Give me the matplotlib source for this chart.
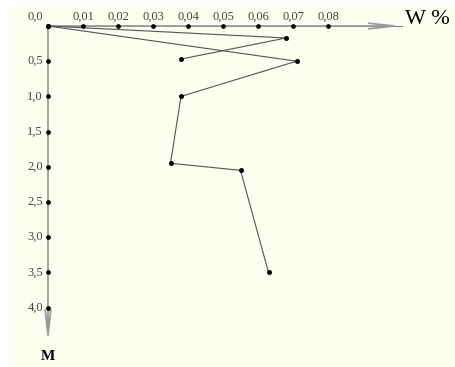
import matplotlib.pyplot as plt

# upper profile (short branch)
w_upper = [0.038, 0.068, 0.0]
d_upper = [0.47, 0.17, 0.0]

# main profile
w_main = [0.0, 0.071, 0.038, 0.035, 0.055, 0.063]
d_main = [0.0, 0.5, 1.0, 1.95, 2.05, 3.5]

x_ticks = [0.01, 0.02, 0.03, 0.04, 0.05, 0.06, 0.07, 0.08]
x_labels = ["0,01", "0,02", "0,03", "0,04", "0,05", "0,06", "0,07", "0,08"]
y_ticks = [0.5, 1.0, 1.5, 2.0, 2.5, 3.0, 3.5, 4.0]
y_labels = ["0,5", "1,0", "1,5", "2,0", "2,5", "3,0", "3,5", "4,0"]

bg = "#fdfdf0"
W, H = 456, 367
fig = plt.figure(figsize=(W / 100, H / 100), dpi=100, facecolor="white")

# cream panel, leaving a thin white margin top/left
panel = fig.add_axes([8 / W, 0, 1 - 8 / W, 1 - 6 / H], zorder=0)
panel.set_facecolor(bg)
panel.set_xticks([])
panel.set_yticks([])
for s in panel.spines.values():
    s.set_visible(False)

ax = fig.add_axes([0, 0, 1, 1], zorder=1)
ax.patch.set_alpha(0)
ax.set_axis_off()
# origin at pixel (48, 26); 0.01 per 35 px, 0.5 m per 35.2 px
sx = 0.01 / 35
sy = 0.5 / 35.2
ax.set_xlim(-48 * sx, (W - 48) * sx)
ax.set_ylim((H - 26) * sy, -26 * sy)

serif = "Liberation Serif"
axis_col = "#9a9a9a"
arrow = dict(arrowstyle="->,head_length=1.8,head_width=0.2",
             color=axis_col, lw=1.3, shrinkA=0, shrinkB=0)

# axes with open arrow heads
ax.annotate("", xy=(354 * sx, 0), xytext=(0, 0), arrowprops=arrow)
ax.plot([0, 354 * sx], [0, 0], color="#6a6a6a", lw=0.6)
ax.annotate("", xy=(0, 317 * sy), xytext=(0, 0), arrowprops=arrow)

# tick dots and labels
ax.plot(x_ticks, [0] * len(x_ticks), "o", color="black", ms=3.4, mew=0, zorder=5)
ax.plot([0] * len(y_ticks), y_ticks, "o", color="black", ms=3.4, mew=0, zorder=5)
for x, lab in zip(x_ticks, x_labels):
    ax.text(x, -3 * sy, lab, ha="center", va="bottom", fontsize=9,
            family=serif, color="#444444")
for y, lab in zip(y_ticks, y_labels):
    ax.text(-5 * sx, y, lab, ha="right", va="center", fontsize=9,
            family=serif, color="#444444")
ax.text(-5 * sx, -3 * sy, "0,0", ha="right", va="bottom", fontsize=9,
        family=serif, color="#444444")
ax.text(357 * sx, -7 * sy, "W %", ha="left", va="center", fontsize=16,
        family=serif, color="black")
ax.text(0, 331 * sy, "M", ha="center", va="center", fontsize=11,
        family=serif, color="black", fontweight="bold")

# profiles
ax.plot(w_upper, d_upper, "-o", color="#555555", lw=0.8, ms=3.6,
        mfc="black", mec="black", mew=0, zorder=4)
ax.plot(w_main, d_main, "-o", color="#555555", lw=0.8, ms=3.6,
        mfc="black", mec="black", mew=0, zorder=4)

fig.savefig("out.png", dpi=100, facecolor="white")
